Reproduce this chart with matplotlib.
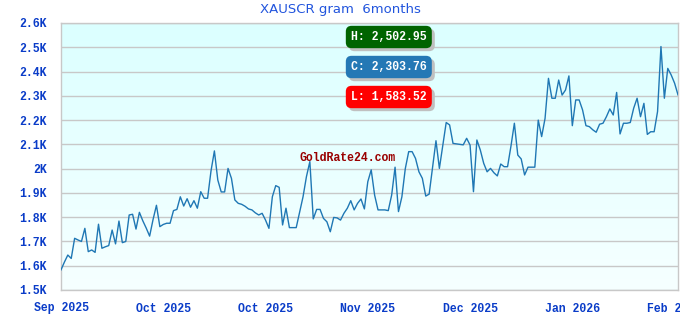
import numpy as np
import pandas as pd
import matplotlib
matplotlib.use("Agg")
import matplotlib.pyplot as plt
import matplotlib.dates as mdates

# daily XAU/SCR per gram, Sep 1 2025 .. Feb 28 2026
prices = [
    1583, 1615, 1644, 1630, 1713, 1706, 1700, 1754, 1658, 1665,
    1655, 1771, 1672, 1678, 1683, 1747, 1690, 1784, 1695, 1700,
    1809, 1812, 1751, 1820, 1785, 1755, 1722, 1790, 1849, 1761,
    1770, 1775, 1775, 1827, 1832, 1884, 1846, 1876, 1841, 1868,
    1837, 1905, 1878, 1878, 1990, 2073, 1953, 1904, 1904, 2001,
    1960, 1871, 1857, 1853, 1845, 1834, 1830, 1818, 1809, 1816,
    1788, 1754, 1884, 1930, 1923, 1768, 1837, 1757, 1757, 1757,
    1820, 1884, 1967, 2029, 1793, 1832, 1832, 1795, 1781, 1740,
    1799, 1797, 1788, 1816, 1837, 1868, 1830, 1857, 1875, 1834,
    1946, 1995, 1891, 1830, 1830, 1830, 1827, 1891, 2006, 1823,
    1884, 2000, 2070, 2070, 2042, 1987, 1960, 1887, 1895, 2006,
    2115, 2001, 2097, 2190, 2180, 2104, 2102, 2100, 2098, 2125,
    2097, 1905, 2118, 2077, 2022, 1987, 2001, 1983, 1970, 2019,
    2008, 2008, 2093, 2187, 2056, 2040, 1974, 2006, 2006, 2006,
    2200, 2132, 2207, 2372, 2290, 2290, 2365, 2303, 2324, 2382,
    2177, 2283, 2283, 2242, 2177, 2173, 2160, 2150, 2183, 2187,
    2214, 2246, 2221, 2314, 2143, 2187, 2187, 2190, 2249, 2290,
    2214, 2269, 2141, 2152, 2152, 2235, 2503, 2290, 2413, 2386,
    2352, 2304,
]
dates = pd.date_range("2025-09-01", periods=len(prices), freq="D")

y_ticks = [1500, 1600, 1700, 1800, 1900, 2000, 2100, 2200, 2300, 2400, 2500, 2600]
y_labels = ["1.5K", "1.6K", "1.7K", "1.8K", "1.9K", "2K", "2.1K", "2.2K",
            "2.3K", "2.4K", "2.5K", "2.6K"]
tick_dates = dates[::30]

stats = [("H: 2,502.95", "#006400"), ("C: 2,303.76", "#2478b5"), ("L: 1,583.52", "#ff0000")]

W, H = 680, 320
fig = plt.figure(figsize=(W / 100, H / 100), dpi=100)
ax = fig.add_axes([61 / W, 30 / H, 617 / W, 267 / H])

# light cyan gradient background
grad = np.linspace(0, 1, 256).reshape(-1, 1)
c_top = np.array([0.86, 1.0, 1.0])
c_bot = np.array([0.965, 1.0, 1.0])
img = c_bot + (c_top - c_bot) * grad
ax.imshow(img[:, None, :].repeat(2, axis=1), extent=[0, 1, 0, 1], transform=ax.transAxes,
          aspect="auto", origin="lower", zorder=0)

ax.plot(dates, prices, color="#1f77b4", lw=1.0, zorder=3)

ax.set_ylim(1500, 2600)
ax.set_xlim(dates[0], dates[-1])
ax.set_yticks(y_ticks)
ax.set_yticklabels(y_labels)
ax.set_xticks(tick_dates)
ax.xaxis.set_major_formatter(mdates.DateFormatter("%b %Y"))
ax.grid(axis="y", color="#c8c8c8", lw=1.0, zorder=1)
ax.grid(axis="x", visible=False)
for s in ax.spines.values():
    s.set_color("#c8c8c8")
    s.set_linewidth(1.0)
ax.tick_params(length=0, labelcolor="#0a3cc8", labelsize=8.3)
ax.tick_params(axis="y", pad=10)
ax.tick_params(axis="x", pad=9)
for lab in ax.get_xticklabels() + ax.get_yticklabels():
    lab.set_fontfamily("Liberation Mono")
    lab.set_fontweight("bold")

fig.text(340 / W, 1 - 10 / H, "XAUSCR gram  6months", ha="center", va="center",
         color="#2255dd", fontsize=9.5, family="DejaVu Sans")

fig.text(348 / W, 1 - 158 / H, "GoldRate24.com", ha="center", va="center",
         color="#990000", fontsize=8.3, family="Liberation Mono", fontweight="bold")

# stat badges with grey drop shadow
for i, (txt, col) in enumerate(stats):
    yc = 37 + 30 * i
    fig.text(354 / W, 1 - (yc + 3) / H, txt, ha="left", va="center", color="#c0c0c0",
             fontsize=8.3, family="Liberation Mono", fontweight="bold",
             bbox=dict(boxstyle="round,pad=0.45,rounding_size=0.5", fc="#c0c0c0", ec="none"))
    fig.text(351 / W, 1 - yc / H, txt, ha="left", va="center", color="white",
             fontsize=8.3, family="Liberation Mono", fontweight="bold",
             bbox=dict(boxstyle="round,pad=0.45,rounding_size=0.5", fc=col, ec="none"))

fig.savefig("out.png", dpi=100)
